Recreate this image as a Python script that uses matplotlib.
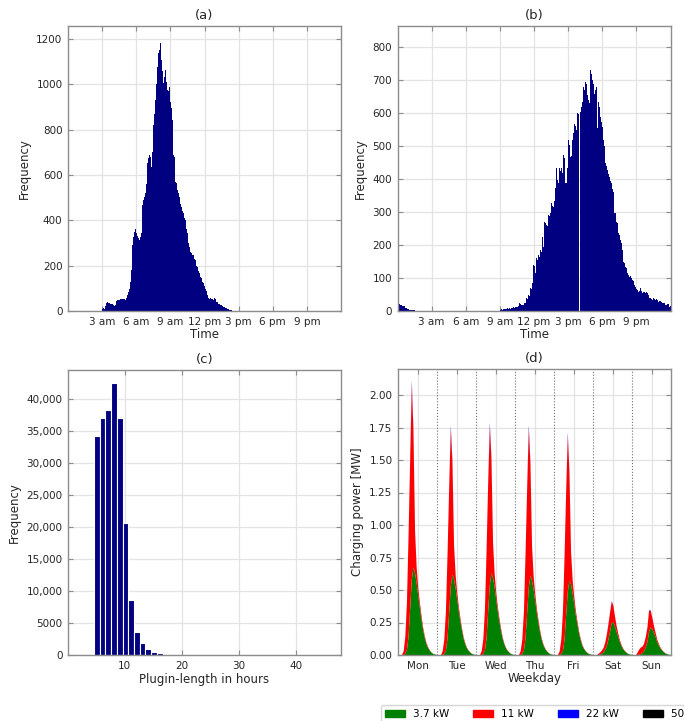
import numpy as np
import matplotlib
matplotlib.use("Agg")
import matplotlib.pyplot as plt
from matplotlib.patches import Patch
from matplotlib.ticker import FuncFormatter

# ---------------- data ----------------
# (a) arrival times: 5-minute bins starting at 03:00
arrival_start_hour = 3.0
arrival_freq = [
    10, 14, 8, 20, 37, 38, 36, 35, 31, 30, 32, 27, 25, 24, 26, 44, 48, 49, 47, 54,
    53, 55, 52, 51, 50, 58, 70, 85, 96, 130, 180, 232, 290, 328, 350, 362, 343, 330, 320, 312,
    328, 345, 468, 490, 504, 519, 560, 651, 675, 688, 685, 681, 637, 700, 820, 870, 931, 1000, 1078, 1137,
    1150, 1181, 1107, 1060, 1004, 1030, 1063, 1010, 975, 946, 970, 990, 920, 894, 843, 690, 681, 570, 563, 534,
    520, 504, 470, 460, 440, 431, 410, 401, 365, 360, 343, 300, 284, 262, 254, 249, 247, 230, 225, 200,
    196, 175, 166, 150, 144, 130, 122, 110, 107, 95, 90, 70, 56, 55, 57, 54, 51, 50, 56, 55,
    41, 40, 31, 30, 26, 27, 22, 21, 19, 18, 15, 12, 10, 7, 5, 4, 3, 2,
]

# (b) departure times: 5-minute bins, night part starting 00:00 and day part starting 09:00
departure_night_start_hour = 0.0
departure_night_freq = [23, 22, 20, 18, 17, 16, 15, 14, 10, 8, 7, 5, 3, 3, 2, 3, 2, 2, 1]
departure_day_start_hour = 9.0
departure_day_freq = [
    4, 5, 4, 6, 5, 6, 5, 7, 8, 6, 9, 7, 8, 9, 11, 10, 12, 11, 13, 14,
    23, 21, 18, 17, 19, 23, 22, 25, 38, 36, 48, 46, 69, 66, 84, 140, 138, 114, 160, 155,
    170, 165, 185, 180, 225, 205, 195, 271, 268, 261, 258, 291, 288, 296, 329, 320, 317, 335, 372, 433,
    397, 390, 433, 425, 413, 433, 420, 473, 465, 387, 390, 433, 519, 505, 468, 470, 519, 540, 569, 560,
    549, 600, 598, 706, 690, 605, 620, 635, 681, 670, 696, 690, 655, 640, 630, 731, 720, 701, 690, 660,
    670, 681, 554, 560, 635, 620, 590, 575, 559, 519, 500, 448, 440, 428, 415, 408, 395, 387, 370, 362,
    296, 298, 296, 271, 268, 236, 230, 215, 205, 185, 150, 145, 135, 130, 114, 110, 104, 106, 100, 94,
    90, 84, 80, 74, 66, 64, 59, 62, 69, 60, 54, 58, 59, 56, 57, 54, 50, 38, 40, 35,
    33, 34, 38, 36, 33, 35, 34, 28, 29, 31, 27, 23, 25, 24, 18, 19, 21, 20, 13, 15,
]

# (c) plug-in length histogram (1-hour bins)
plugin_bin_start = 4.63
plugin_freq = [34200, 37150, 38300, 42550, 37150, 20650, 8600, 3550, 1830, 940, 520, 260, 120, 60, 30]

# (d) weekly charging power [MW], hourly values per day
weekdays = ["Mon", "Tue", "Wed", "Thu", "Fri", "Sat", "Sun"]
power_37kw = [
    [0, 0, 0, 0, 0.01, 0.04, 0.14, 0.36, 0.58, 0.67, 0.63, 0.55, 0.45, 0.36, 0.27, 0.19, 0.13, 0.085, 0.055, 0.035, 0.02, 0.01, 0.005, 0.002],
    [0, 0, 0, 0, 0.01, 0.035, 0.13, 0.33, 0.53, 0.62, 0.58, 0.51, 0.42, 0.33, 0.25, 0.18, 0.12, 0.08, 0.05, 0.032, 0.018, 0.009, 0.004, 0.002],
    [0, 0, 0, 0, 0.01, 0.035, 0.13, 0.34, 0.54, 0.63, 0.59, 0.52, 0.42, 0.33, 0.25, 0.18, 0.12, 0.08, 0.05, 0.032, 0.018, 0.009, 0.004, 0.002],
    [0, 0, 0, 0, 0.01, 0.035, 0.13, 0.33, 0.52, 0.61, 0.57, 0.50, 0.41, 0.32, 0.24, 0.17, 0.115, 0.075, 0.048, 0.03, 0.017, 0.008, 0.004, 0.002],
    [0, 0, 0, 0, 0.01, 0.03, 0.12, 0.31, 0.49, 0.57, 0.54, 0.47, 0.39, 0.30, 0.23, 0.16, 0.11, 0.07, 0.045, 0.028, 0.016, 0.008, 0.004, 0.002],
    [0, 0, 0, 0, 0.005, 0.01, 0.02, 0.04, 0.07, 0.12, 0.18, 0.245, 0.25, 0.22, 0.18, 0.14, 0.10, 0.07, 0.045, 0.03, 0.018, 0.01, 0.005, 0.002],
    [0, 0, 0, 0, 0.003, 0.008, 0.015, 0.03, 0.06, 0.10, 0.18, 0.21, 0.20, 0.17, 0.14, 0.10, 0.075, 0.05, 0.035, 0.022, 0.013, 0.007, 0.003, 0.001],
]
power_11kw = [
    [0, 0, 0, 0.03, 0.13, 0.36, 0.78, 1.15, 1.50, 1.05, 0.32, 0.12, 0.06, 0.04, 0.03, 0.02, 0.015, 0.01, 0.007, 0.004, 0.002, 0.001, 0, 0],
    [0, 0, 0, 0.03, 0.11, 0.30, 0.65, 0.96, 1.21, 0.86, 0.26, 0.10, 0.05, 0.035, 0.025, 0.018, 0.012, 0.008, 0.005, 0.003, 0.002, 0.001, 0, 0],
    [0, 0, 0, 0.03, 0.11, 0.31, 0.67, 0.98, 1.22, 0.88, 0.27, 0.10, 0.05, 0.035, 0.025, 0.018, 0.012, 0.008, 0.005, 0.003, 0.002, 0.001, 0, 0],
    [0, 0, 0, 0.03, 0.11, 0.30, 0.65, 0.96, 1.22, 0.86, 0.26, 0.10, 0.05, 0.035, 0.025, 0.018, 0.012, 0.008, 0.005, 0.003, 0.002, 0.001, 0, 0],
    [0, 0, 0, 0.03, 0.11, 0.30, 0.64, 0.95, 1.20, 0.83, 0.25, 0.10, 0.05, 0.035, 0.025, 0.018, 0.012, 0.008, 0.005, 0.003, 0.002, 0.001, 0, 0],
    [0, 0, 0, 0.01, 0.015, 0.025, 0.035, 0.055, 0.085, 0.115, 0.145, 0.165, 0.13, 0.08, 0.045, 0.028, 0.016, 0.01, 0.007, 0.004, 0.002, 0.001, 0, 0],
    [0, 0, 0, 0.02, 0.04, 0.05, 0.05, 0.06, 0.08, 0.11, 0.16, 0.13, 0.085, 0.055, 0.032, 0.02, 0.012, 0.008, 0.005, 0.003, 0.002, 0.001, 0, 0],
]
power_22kw = [
    [0, 0, 0, 0, 0, 0, 0.003, 0.01, 0.03, 0.02, 0.005, 0.002, 0, 0, 0, 0, 0, 0, 0, 0, 0, 0, 0, 0],
    [0, 0, 0, 0, 0, 0, 0.003, 0.01, 0.025, 0.015, 0.004, 0.001, 0, 0, 0, 0, 0, 0, 0, 0, 0, 0, 0, 0],
    [0, 0, 0, 0, 0, 0, 0.003, 0.01, 0.025, 0.015, 0.004, 0.001, 0, 0, 0, 0, 0, 0, 0, 0, 0, 0, 0, 0],
    [0, 0, 0, 0, 0, 0, 0.003, 0.01, 0.025, 0.015, 0.004, 0.001, 0, 0, 0, 0, 0, 0, 0, 0, 0, 0, 0, 0],
    [0, 0, 0, 0, 0, 0, 0.003, 0.01, 0.02, 0.015, 0.004, 0.001, 0, 0, 0, 0, 0, 0, 0, 0, 0, 0, 0, 0],
    [0, 0, 0, 0, 0, 0, 0, 0, 0.002, 0.004, 0.005, 0.004, 0.002, 0, 0, 0, 0, 0, 0, 0, 0, 0, 0, 0],
    [0, 0, 0, 0, 0, 0, 0, 0, 0.002, 0.003, 0.004, 0.003, 0.002, 0, 0, 0, 0, 0, 0, 0, 0, 0, 0, 0],
]
power_50kw = [
    [0, 0, 0, 0, 0, 0, 0, 0, 0.001, 0.001, 0, 0, 0, 0, 0, 0, 0, 0, 0, 0, 0, 0, 0, 0],
    [0, 0, 0, 0, 0, 0, 0, 0, 0.001, 0.001, 0, 0, 0, 0, 0, 0, 0, 0, 0, 0, 0, 0, 0, 0],
    [0, 0, 0, 0, 0, 0, 0, 0, 0.001, 0.001, 0, 0, 0, 0, 0, 0, 0, 0, 0, 0, 0, 0, 0, 0],
    [0, 0, 0, 0, 0, 0, 0, 0, 0.001, 0.001, 0, 0, 0, 0, 0, 0, 0, 0, 0, 0, 0, 0, 0, 0],
    [0, 0, 0, 0, 0, 0, 0, 0, 0.001, 0.001, 0, 0, 0, 0, 0, 0, 0, 0, 0, 0, 0, 0, 0, 0],
    [0, 0, 0, 0, 0, 0, 0, 0, 0, 0, 0, 0, 0, 0, 0, 0, 0, 0, 0, 0, 0, 0, 0, 0],
    [0, 0, 0, 0, 0, 0, 0, 0, 0, 0, 0, 0, 0, 0, 0, 0, 0, 0, 0, 0, 0, 0, 0, 0],
]
series_labels = ["3.7 kW", "11 kW", "22 kW", "50 kW"]
series_colors = ["#008000", "#ff0000", "#0000ff", "#000000"]

hour_ticks = [3, 6, 9, 12, 15, 18, 21]
hour_tick_labels = ["3 am", "6 am", "9 am", "12 pm", "3 pm", "6 pm", "9 pm"]

# ---------------- style ----------------
plt.rcParams["font.family"] = ["DejaVu Sans"]
BAR = "#000080"
SPINE = "#8c8c8c"
GRID = "#e3e3e3"
TXT = "#262626"

W, H = 684, 721
fig = plt.figure(figsize=(W / 100, H / 100), dpi=100)


def add_ax(l, r, t, b):
    return fig.add_axes([l / W, 1 - b / H, (r - l) / W, (b - t) / H])


def style(ax):
    for s in ax.spines.values():
        s.set_color(SPINE)
        s.set_linewidth(1.0)
    ax.tick_params(direction="in", top=True, right=True, length=3.5, width=0.8,
                   color=SPINE, labelsize=7.5, labelcolor=TXT, pad=4)
    ax.grid(True, color=GRID, linewidth=0.9)
    ax.set_axisbelow(True)


ax_a = add_ax(68, 341, 26, 311)
ax_b = add_ax(397.5, 670.5, 26, 311)
ax_c = add_ax(68, 341, 370, 655)
ax_d = add_ax(398, 671, 369, 655)

bw = 5 / 60

# (a)
xa = arrival_start_hour + np.arange(len(arrival_freq)) * bw
ax_a.bar(xa, arrival_freq, width=bw, align="edge", color=BAR, linewidth=0)
ax_a.set_xlim(0, 24)
ax_a.set_ylim(0, 1257)
ax_a.set_yticks(np.arange(0, 1201, 200))
ax_a.set_xticks(hour_ticks)
ax_a.set_xticklabels(hour_tick_labels)
ax_a.set_xlabel("Time", fontsize=8.5, color=TXT, labelpad=1)
ax_a.set_ylabel("Frequency", fontsize=8.5, color=TXT)
ax_a.set_title("(a)", fontsize=9.5, color=TXT, pad=5)
style(ax_a)

# (b)
xbn = departure_night_start_hour + np.arange(len(departure_night_freq)) * bw
xbd = departure_day_start_hour + np.arange(len(departure_day_freq)) * bw
ax_b.bar(xbn, departure_night_freq, width=bw, align="edge", color=BAR, linewidth=0)
ax_b.bar(xbd, departure_day_freq, width=bw, align="edge", color=BAR, linewidth=0)
ax_b.set_xlim(0, 24)
ax_b.set_ylim(0, 865)
ax_b.set_yticks(np.arange(0, 801, 100))
ax_b.set_xticks(hour_ticks)
ax_b.set_xticklabels(hour_tick_labels)
ax_b.set_xlabel("Time", fontsize=8.5, color=TXT, labelpad=1)
ax_b.set_ylabel("Frequency", fontsize=8.5, color=TXT)
ax_b.set_title("(b)", fontsize=9.5, color=TXT, pad=5)
style(ax_b)

# (c)
xc = plugin_bin_start + np.arange(len(plugin_freq)) * 1.0
ax_c.bar(xc, plugin_freq, width=1.0, align="edge", color=BAR, edgecolor="white", linewidth=0.8)
ax_c.set_xlim(0.1, 47.8)
ax_c.set_ylim(0, 44600)
ax_c.set_yticks(np.arange(0, 40001, 5000))
ax_c.set_xticks([10, 20, 30, 40])
ax_c.yaxis.set_major_formatter(FuncFormatter(lambda v, p: f"{int(v):,}" if v >= 10000 else f"{int(v)}"))
ax_c.set_xlabel("Plugin-length in hours", fontsize=8.5, color=TXT, labelpad=2)
ax_c.set_ylabel("Frequency", fontsize=8.5, color=TXT)
ax_c.set_title("(c)", fontsize=9.5, color=TXT, pad=5)
style(ax_c)

# (d)
g = np.concatenate([np.array(d) for d in power_37kw])
r = np.concatenate([np.array(d) for d in power_11kw])
bl = np.concatenate([np.array(d) for d in power_22kw])
bk = np.concatenate([np.array(d) for d in power_50kw])
t = (np.arange(len(g)) + 0.5) / 24.0
ax_d.stackplot(t, g, r, bl, bk, colors=series_colors, linewidth=0)
for i in range(1, 7):
    ax_d.axvline(i, color="#707070", linestyle=":", linewidth=0.8, zorder=3)
ax_d.set_xlim(0, 7)
ax_d.set_ylim(0, 2.2)
ax_d.set_yticks(np.arange(0, 2.01, 0.25))
ax_d.yaxis.set_major_formatter(FuncFormatter(lambda v, p: f"{v:.2f}"))
ax_d.set_xticks(np.arange(7) + 0.5)
ax_d.set_xticklabels(weekdays)
ax_d.set_xlabel("Weekday", fontsize=8.5, color=TXT, labelpad=1)
ax_d.set_ylabel("Charging power [MW]", fontsize=8.5, color=TXT)
ax_d.set_title("(d)", fontsize=9.5, color=TXT, pad=5)
style(ax_d)

handles = [Patch(facecolor=c, edgecolor=c) for c in series_colors]
fig.legend(handles, series_labels, ncol=4, loc="upper left",
           bbox_to_anchor=(376 / W, 1 - 700 / H), fontsize=7.5, frameon=True,
           handlelength=1.9, handleheight=0.7, handletextpad=0.8, columnspacing=2.3,
           borderpad=0.35, edgecolor="#cccccc", fancybox=True)

fig.savefig("out.png", dpi=100)
